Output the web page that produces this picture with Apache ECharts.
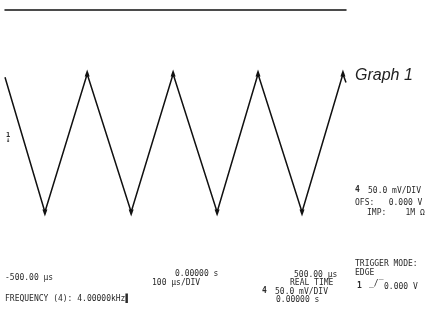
<!DOCTYPE html>
<html>
<head>
<meta charset="utf-8">
<script src="https://cdn.jsdelivr.net/npm/echarts@6/dist/echarts.min.js"></script>
<style>
  html, body { margin: 0; padding: 0; background: #fff; }
  #chart { width: 436px; height: 315px; }
</style>
</head>
<body>
<div id="chart"></div>
<script>
// trace vertices (time in µs, level in mV)
const timeUs = [-500, -383, -259, -130, -7, 122, 242, 371, 491, 500]
const levelMv = [98, -106, 103, -106, 103, -106, 103, -106, 103, 90]
// peaks / troughs get the little spike marker
const vertexKind = ['', 'down', 'up', 'down', 'up', 'down', 'up', 'down', 'up', '']

const timeRange = [-500, 500]
const levelRange = [-200, 200]

const chartInstance = echarts.init(document.getElementById('chart'), null, { renderer: 'canvas' })

const seriesData = timeUs.map((t, i) => {
  const item = { value: [t, levelMv[i]] }
  if (vertexKind[i] === 'up') {
    item.symbol = 'triangle'
    item.symbolSize = [5, 7]
    item.symbolOffset = [0, -1]
  } else if (vertexKind[i] === 'down') {
    item.symbol = 'triangle'
    item.symbolRotate = 180
    item.symbolSize = [5, 7]
    item.symbolOffset = [0, 1]
  } else {
    item.symbol = 'none'
  }
  return item
})

const scopeFont = { fontFamily: 'DejaVu Sans Mono', fontSize: 8, fill: '#2a2a2a' }
function scopeText(x, y, text, extra) {
  return { type: 'text', left: x, top: y, style: Object.assign({ text: text }, scopeFont, extra || {}) }
}

const option = {
  animation: false,
  backgroundColor: '#fff',
  grid: { left: 5, right: 90, top: 10, bottom: 41 },
  xAxis: {
    type: 'value',
    position: 'top',
    min: timeRange[0],
    max: timeRange[1],
    axisLine: { show: true, onZero: false, lineStyle: { color: '#111', width: 1.5 } },
    axisTick: { show: false },
    axisLabel: { show: false },
    splitLine: { show: false }
  },
  yAxis: {
    type: 'value',
    min: levelRange[0],
    max: levelRange[1],
    show: false,
    splitLine: { show: false }
  },
  series: [
    {
      type: 'line',
      data: seriesData,
      showSymbol: true,
      lineStyle: { color: '#111', width: 1.5 },
      itemStyle: { color: '#111' },
      silent: true
    }
  ],
  graphic: [
    { type: 'text', left: 355, top: 68, style: { text: 'Graph 1', fontFamily: 'Liberation Sans', fontStyle: 'italic', fontSize: 16, fill: '#222' } },
    // channel ground marker
    scopeText(6, 132, '1\n↓', { fontSize: 7, lineHeight: 5, fontWeight: 'bold' }),
    // right panel
    scopeText(355, 186, '4', { fontWeight: 'bold' }),
    scopeText(368, 187, '50.0 mV/DIV'),
    scopeText(355, 199, 'OFS:   0.000 V'),
    scopeText(367, 209, 'IMP:    1M Ω'),
    scopeText(355, 260, 'TRIGGER MODE:'),
    scopeText(355, 269, 'EDGE'),
    scopeText(357, 282, '1', { fontWeight: 'bold' }),
    scopeText(369, 280, '_/‾'),
    scopeText(384, 283, '0.000 V'),
    // bottom readouts
    scopeText(5, 274, '-500.00 µs'),
    scopeText(175, 270, '0.00000 s'),
    scopeText(152, 279, '100 µs/DIV'),
    scopeText(294, 271, '500.00 µs'),
    scopeText(290, 279, 'REAL TIME'),
    scopeText(262, 287, '4', { fontWeight: 'bold' }),
    scopeText(275, 288, '50.0 mV/DIV'),
    scopeText(276, 296, '0.00000 s'),
    scopeText(5, 295, 'FREQUENCY (4): 4.00000kHz▌')
  ]
}

chartInstance.setOption(option)
</script>
</body>
</html>
